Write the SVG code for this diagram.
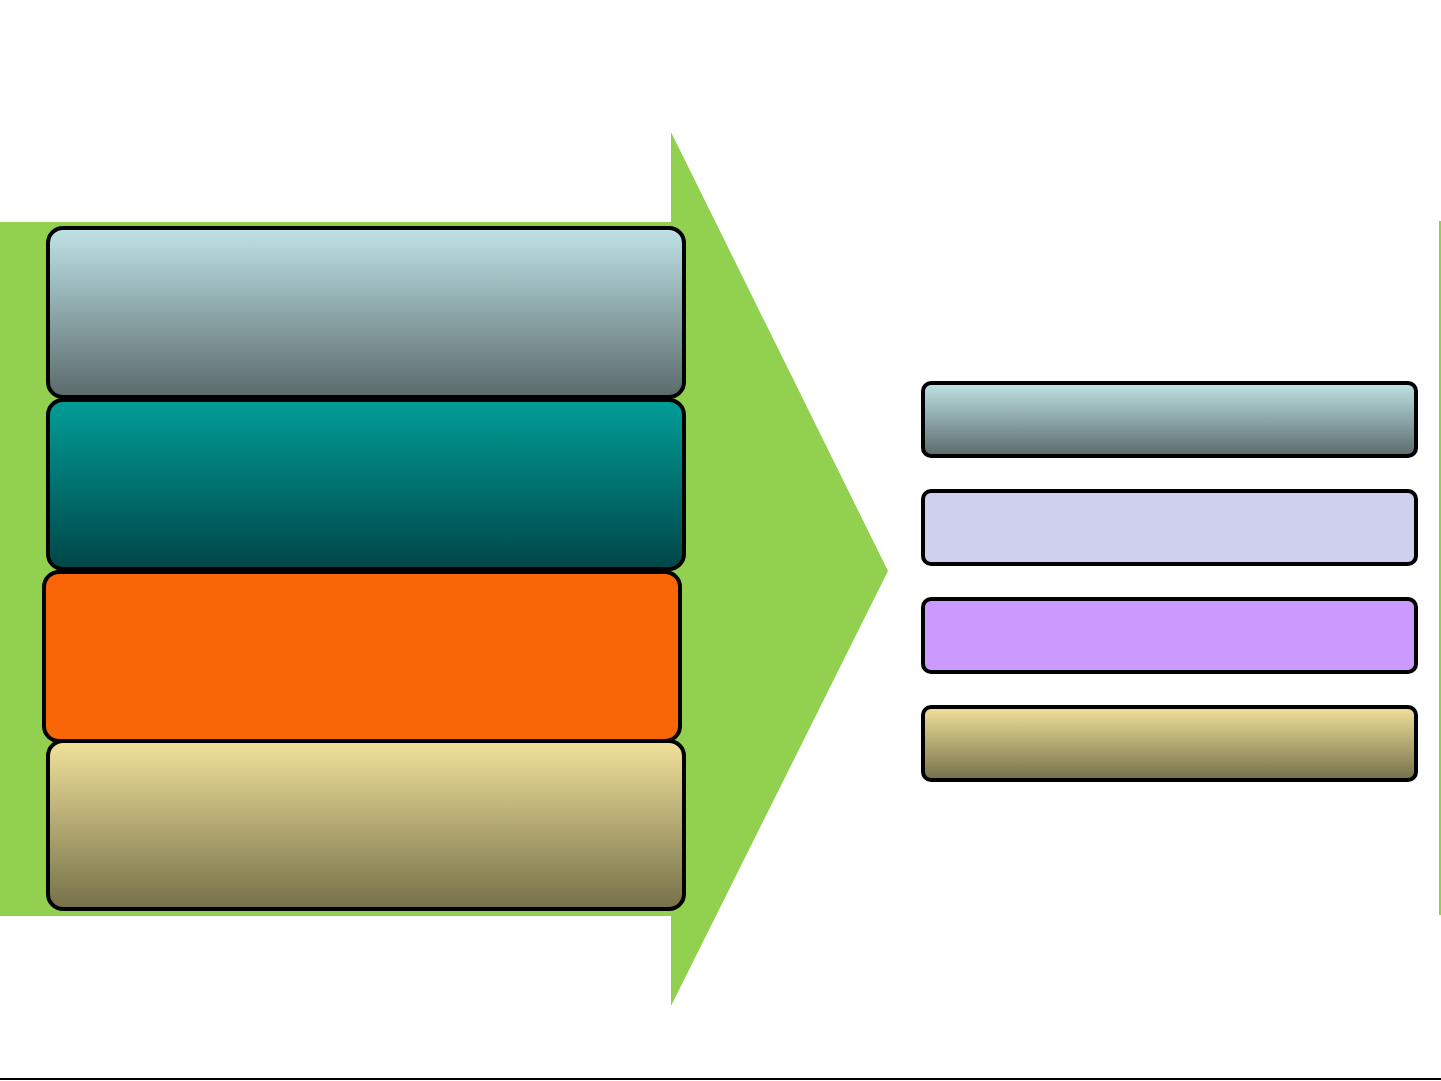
<svg xmlns="http://www.w3.org/2000/svg" width="1441" height="1081" viewBox="0 0 1441 1081">
<defs>
<linearGradient id="gBlue" x1="0" y1="0" x2="0" y2="1"><stop offset="0" stop-color="#bfe3e6"/><stop offset="1" stop-color="#5a6a6b"/></linearGradient>
<linearGradient id="gTeal" x1="0" y1="0" x2="0" y2="1"><stop offset="0" stop-color="#009e98"/><stop offset="1" stop-color="#004647"/></linearGradient>
<linearGradient id="gSand" x1="0" y1="0" x2="0" y2="1"><stop offset="0" stop-color="#f1e19a"/><stop offset="1" stop-color="#747049"/></linearGradient>
<style>
.box{stroke:#000;stroke-width:4}
</style>
</defs>
<rect width="1441" height="1081" fill="#fff"/>
<g id="arrow">
<polygon points="0,222 671,222 671,132 888,571 671,1006 671,916 0,916" fill="#92d050"/>
</g>
<line x1="1440" y1="221" x2="1440" y2="915" stroke="#92d050" stroke-width="2"/>
<line x1="0" y1="1079" x2="1441" y2="1079" stroke="#000" stroke-width="2"/>
<g id="node-l1"><rect class="box" x="48" y="228" width="636" height="169" rx="15" fill="url(#gBlue)"/></g>
<g id="node-l2"><rect class="box" x="48" y="400" width="636" height="169" rx="15" fill="url(#gTeal)"/></g>
<g id="node-l3"><rect class="box" x="44" y="572" width="636" height="169" rx="15" fill="#f96608"/></g>
<g id="node-l4"><rect class="box" x="48" y="741" width="636" height="168" rx="15" fill="url(#gSand)"/></g>
<g id="node-r1"><rect class="box" x="923" y="383" width="493" height="73" rx="8" fill="url(#gBlue)"/></g>
<g id="node-r2"><rect class="box" x="923" y="491" width="493" height="73" rx="8" fill="#cfd0ee"/></g>
<g id="node-r3"><rect class="box" x="923" y="599" width="493" height="73" rx="8" fill="#cc99ff"/></g>
<g id="node-r4"><rect class="box" x="923" y="707" width="493" height="73" rx="8" fill="url(#gSand)"/></g>
<g id="connectors"></g>
</svg>
